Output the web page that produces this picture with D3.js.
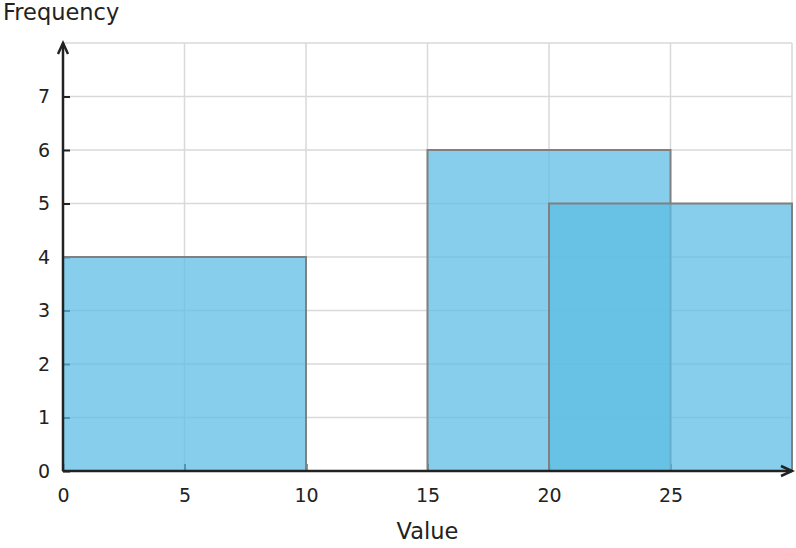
<!DOCTYPE html>
<html>
<head>
<meta charset="utf-8">
<script src="https://cdn.jsdelivr.net/npm/d3@7"></script>
<style>
  body { margin: 0; background: #fff; }
  text { font-family: "DejaVu Sans", sans-serif; fill: #222; }
</style>
</head>
<body>
<div id="chart-area"></div>
<script>
// histogram bins (overlapping, as in the picture)
var binStart = [0, 10, 15, 20];
var binEnd = [10, 15, 25, 30];
var binCount = [4, 0, 6, 5];
var xTicks = [0, 5, 10, 15, 20, 25];
var yTicks = [0, 1, 2, 3, 4, 5, 6, 7];

var margin = { left: 63, right: 4, top: 43, bottom: 77 };
var width = 796 - margin.left - margin.right,
  height = 548 - margin.top - margin.bottom;

var svg = d3.select("#chart-area")
  .append("svg")
  .attr("width", 796)
  .attr("height", 548);

var g = svg.append("g")
  .attr("transform", "translate(" + margin.left + ", " + margin.top + ")");

var x = d3.scaleLinear().domain([0, 30]).range([0, width]);
var y = d3.scaleLinear().domain([0, 8]).range([height, 0]);

// Grid
var grid = g.append("g").attr("stroke", "#d9d9d9").attr("stroke-width", 1.5);
grid.selectAll(".gx").data(xTicks.slice(1).concat([30]))
  .enter().append("line")
  .attr("x1", function (d) { return x(d); })
  .attr("x2", function (d) { return x(d); })
  .attr("y1", 0).attr("y2", height);
grid.selectAll(".gy").data(yTicks.slice(1).concat([8]))
  .enter().append("line")
  .attr("y1", function (d) { return y(d); })
  .attr("y2", function (d) { return y(d); })
  .attr("x1", 0).attr("x2", width);

// Axes (ticks pointing into the plot)
var xAxis = g.append("g")
  .attr("transform", "translate(0," + height + ")")
  .call(d3.axisBottom(x).tickValues(xTicks).tickSize(-7).tickPadding(18));
var yAxis = g.append("g")
  .call(d3.axisLeft(y).tickValues(yTicks).tickSize(-7).tickPadding(13));

[xAxis, yAxis].forEach(function (a) {
  a.select(".domain").remove();
  a.selectAll(".tick line").attr("stroke", "#222").attr("stroke-width", 2);
  a.selectAll(".tick text")
    .style("font-family", "DejaVu Sans, sans-serif")
    .style("font-size", "19px")
    .attr("fill", "#222");
});

// Bars
var bins = binCount.map(function (c, i) {
  return { x0: binStart[i], x1: binEnd[i], count: c };
});
g.selectAll("rect.bar").data(bins)
  .enter().append("rect")
  .attr("class", "bar")
  .attr("x", function (d) { return x(d.x0); })
  .attr("width", function (d) { return x(d.x1) - x(d.x0); })
  .attr("y", function (d) { return y(d.count); })
  .attr("height", function (d) { return y(0) - y(d.count); })
  .attr("fill", "rgb(93,189,228)")
  .attr("fill-opacity", 0.75)
  .attr("stroke", "#808080")
  .attr("stroke-width", 2);

// Axis lines with arrows
var axisColor = "#222";
g.append("line")
  .attr("x1", 0).attr("x2", width)
  .attr("y1", height).attr("y2", height)
  .attr("stroke", axisColor).attr("stroke-width", 2.5);
g.append("path")
  .attr("d", "M" + (width - 11) + "," + (height - 5) + " L" + width + "," + height + " L" + (width - 11) + "," + (height + 5))
  .attr("fill", "none").attr("stroke", axisColor).attr("stroke-width", 2.5);
g.append("line")
  .attr("x1", 0).attr("x2", 0)
  .attr("y1", height).attr("y2", 0)
  .attr("stroke", axisColor).attr("stroke-width", 2.5);
g.append("path")
  .attr("d", "M-5,11 L0,0 L5,11")
  .attr("fill", "none").attr("stroke", axisColor).attr("stroke-width", 2.5);

// Labels
svg.append("text")
  .attr("x", 3).attr("y", 20)
  .style("font-size", "22.5px")
  .text("Frequency");
svg.append("text")
  .attr("x", margin.left + x(15)).attr("y", 539)
  .attr("text-anchor", "middle")
  .style("font-size", "22.5px")
  .text("Value");
</script>
</body>
</html>
